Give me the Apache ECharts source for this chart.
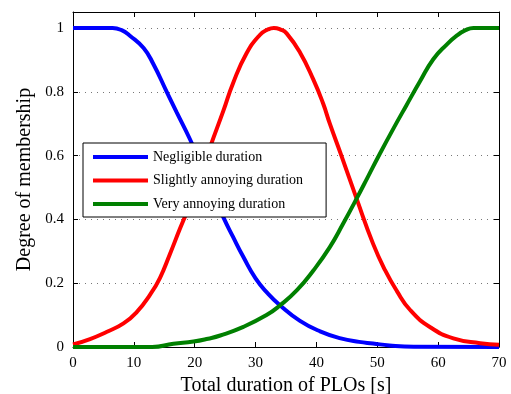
<!DOCTYPE html>
<html>
<head>
<meta charset="utf-8">
<script src="https://cdn.jsdelivr.net/npm/echarts@6/dist/echarts.min.js"></script>
<style>html,body{margin:0;padding:0;background:#fff}#c{width:511px;height:394px}</style>
</head>
<body>
<div id="c"></div>
<script>
// Data
const seriesNames = ['Negligible duration', 'Slightly annoying duration', 'Very annoying duration'];
const xTicks = [0, 10, 20, 30, 40, 50, 60, 70];
const yTicks = [0, 0.2, 0.4, 0.6, 0.8, 1];

const negligibleX = [0, 6.5, 8, 9.4, 11.6, 13.2, 15.4, 17, 19.2, 20.5, 22.5, 24.7, 26.3, 28, 30, 32, 34, 37.3, 40.6, 44, 47, 49.3, 52, 56, 70];
const negligibleY = [1, 1, 0.993, 0.975, 0.937, 0.887, 0.80, 0.737, 0.652, 0.595, 0.505, 0.407, 0.345, 0.282, 0.215, 0.168, 0.131, 0.082, 0.049, 0.027, 0.016, 0.011, 0.005, 0.001, 0];

const slightlyX = [0, 2.8, 5.5, 8.3, 10.5, 12.7, 14.3, 15.9, 17.6, 19.5, 21, 22.5, 24.7, 26.3, 28.5, 30.7, 32, 33, 34.1, 35.1, 37.3, 39.5, 41.1, 42.2, 44.1, 46.6, 49.3, 51.3, 53.2, 55.4, 58.7, 62.5, 66.9, 70];
const slightlyY = [0.008, 0.025, 0.047, 0.074, 0.11, 0.165, 0.217, 0.29, 0.372, 0.46, 0.54, 0.625, 0.74, 0.827, 0.92, 0.978, 0.995, 1.0, 0.995, 0.983, 0.923, 0.838, 0.763, 0.70, 0.6, 0.465, 0.324, 0.24, 0.176, 0.116, 0.062, 0.027, 0.012, 0.007];

const veryX = [0, 13, 16.5, 19.8, 22.2, 24.2, 28, 31.8, 34, 36.8, 39.5, 42.2, 44.4, 46.6, 48.5, 50.4, 52.6, 54.8, 57, 59.2, 61.4, 63, 64.5, 65.8, 70];
const veryY = [0, 0, 0.01, 0.017, 0.026, 0.036, 0.063, 0.1, 0.13, 0.178, 0.24, 0.313, 0.387, 0.465, 0.535, 0.605, 0.683, 0.758, 0.832, 0.902, 0.948, 0.975, 0.993, 1.0, 1.0];

const colors = ['#0000ff', '#ff0000', '#008000'];
const pairs = (xs, ys) => xs.map((x, i) => [x, ys[i]]);
const allX = [negligibleX, slightlyX, veryX];
const allY = [negligibleY, slightlyY, veryY];

const font = 'Liberation Serif';
const isTick = v => yTicks.some(t => Math.abs(t - v) < 1e-6);

const chart = echarts.init(document.getElementById('c'), null, {renderer: 'canvas'});
chart.setOption({
  animation: false,
  backgroundColor: '#fff',
  grid: {left: 73, right: 12, top: 12, bottom: 47, containLabel: false, outerBoundsMode: 'none'},
  legend: {
    show: true,
    orient: 'vertical',
    left: 83, top: 143,
    z: 10,
    backgroundColor: '#fff',
    borderColor: '#000', borderWidth: 1,
    padding: [7, 23, 6, 10],
    icon: 'rect',
    itemWidth: 55, itemHeight: 4, itemGap: 9.5,
    textStyle: {fontFamily: font, fontSize: 14, color: '#000', lineHeight: 14},
    data: seriesNames
  },
  xAxis: [{
    type: 'value', min: xTicks[0], max: xTicks[xTicks.length - 1], interval: 10,
    name: 'Total duration of PLOs [s]', nameLocation: 'middle', nameGap: 24,
    nameTextStyle: {fontFamily: font, fontSize: 20, color: '#000'},
    axisLine: {show: true, onZero: false, lineStyle: {color: '#000', width: 1}},
    axisTick: {show: true, inside: true, length: 5, lineStyle: {color: '#000'}},
    axisLabel: {fontFamily: font, fontSize: 15, color: '#000', margin: 9},
    splitLine: {show: false}
  }, {
    type: 'value', position: 'top', min: 0, max: 70, interval: 10,
    axisLine: {show: true, onZero: false, lineStyle: {color: '#000', width: 1}},
    axisTick: {show: true, inside: true, length: 5, lineStyle: {color: '#000'}},
    axisLabel: {show: false}, splitLine: {show: false}
  }],
  yAxis: [{
    type: 'value', min: 0, max: 1.05, interval: 0.2,
    name: 'Degree of membership', nameLocation: 'middle', nameGap: 36, nameRotate: 90,
    nameTextStyle: {fontFamily: font, fontSize: 20, color: '#000'},
    axisLine: {show: true, onZero: false, lineStyle: {color: '#000', width: 1}},
    axisTick: {show: true, inside: true, length: 5, lineStyle: {color: '#000'}},
    axisLabel: {fontFamily: font, fontSize: 15, color: '#000', margin: 9,
      showMaxLabel: false,
      formatter: v => isTick(v) ? String(Math.round(v * 10) / 10) : ''},
    splitLine: {show: true, lineStyle: {color: '#777', type: [1, 5], width: 1}}
  }, {
    type: 'value', position: 'right', min: 0, max: 1.05, interval: 0.2,
    axisLine: {show: true, onZero: false, lineStyle: {color: '#000', width: 1}},
    axisTick: {show: true, inside: true, length: 5, lineStyle: {color: '#000'}},
    axisLabel: {show: false}, splitLine: {show: false}
  }],
  series: seriesNames.map((n, i) => ({
    name: n, type: 'line', xAxisIndex: 0, yAxisIndex: 0,
    data: pairs(allX[i], allY[i]),
    symbol: 'none', smooth: 0.5, clip: false,
    color: colors[i],
    itemStyle: {color: colors[i]},
    lineStyle: {color: colors[i], width: 4},
    z: 2
  }))
});
</script>
</body>
</html>
